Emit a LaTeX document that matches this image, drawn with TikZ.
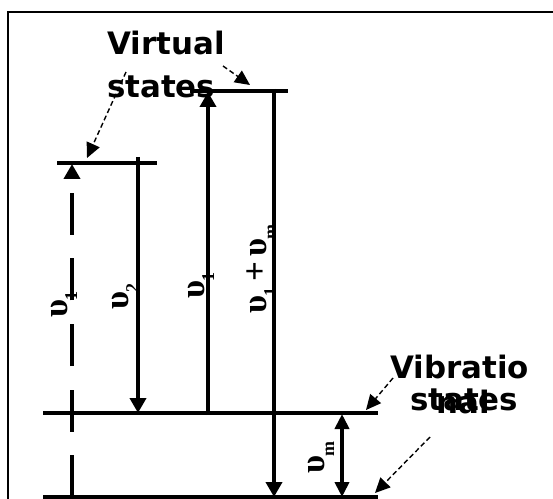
\documentclass[tikz,border=0pt]{standalone}
\usepackage{fontspec}
\setmainfont{Liberation Serif}
\newfontfamily\lblfont{DejaVu Sans}
\usetikzlibrary{arrows.meta}
\newcommand\lsub[1]{\kern-1bp\raisebox{-10bp}{\fontsize{18}{18}\selectfont #1}}
\begin{document}
\begin{tikzpicture}[x=1bp,y=-1bp,
  level/.style={line width=3.5bp},
  trans/.style={line width=4.5bp,-{Triangle[length=15bp,width=16bp]}},
  dtrans/.style={line width=4.5bp,{Triangle[length=15bp,width=14bp]}-{Triangle[length=15bp,width=14bp]}},
  note/.style={line width=1.4bp,dash pattern=on 5bp off 3bp,-{Triangle[length=15bp,width=14bp]}},
  ups/.style={rotate=90,anchor=base west,inner sep=0,font=\fontsize{35}{35}\selectfont\bfseries},
  ttl/.style={inner sep=0,anchor=base west,font=\lblfont\bfseries\fontsize{31}{31}\selectfont}]
\useasboundingbox (0,0) rectangle (553,499);
% frame
\coordinate (fbl) at (8,499);
\coordinate (ftl) at (8,12);
\coordinate (ftr) at (553,12);
\draw[line width=2bp] (fbl) -- (ftl) -- (ftr);
% levels
\coordinate (v1a) at (57,163); \coordinate (v1b) at (157,163);
\coordinate (v2a) at (190,91); \coordinate (v2b) at (288,91);
\coordinate (g1a) at (43,413); \coordinate (g1b) at (378,413);
\coordinate (g0a) at (43,497); \coordinate (g0b) at (378,497);
\draw[level] (v1a) -- (v1b);
\draw[level] (v2a) -- (v2b);
\draw[level] (g1a) -- (g1b);
\draw[level] (g0a) -- (g0b);
% transitions
\coordinate (d0) at (72,497); \coordinate (d1) at (72,164);
\draw[trans,dash pattern=on 42bp off 23.5bp] (d0) -- (d1);
\coordinate (s0) at (138,157); \coordinate (s1) at (138,413);
\draw[trans] (s0) -- (s1);
\coordinate (p0) at (208,415); \coordinate (p1) at (208,92);
\draw[trans] (p0) -- (p1);
\coordinate (a0) at (274,89); \coordinate (a1) at (274,497);
\draw[trans] (a0) -- (a1);
\coordinate (m0) at (342,414); \coordinate (m1) at (342,497);
\draw[dtrans] (m0) -- (m1);
% labels
\node[ups] (l1) at (67,318) {υ\lsub{1}};
\node[ups] (l2) at (128,310) {υ\lsub{2}};
\node[ups] (l3) at (204,299) {υ\lsub{1}};
\node[ups] (l4) at (266,314) {υ\lsub{1}\,+\,υ\lsub{m}};
\node[ups] (l5) at (324,474) {υ\lsub{m}};
% titles
\node[ttl] (t1) at (107,55) {Virtual};
\node[ttl] (t2) at (107,98) {states};
\node[ttl] (t3) at (390,378) {Vibratio};
\node[ttl] (t4) at (410,410) {states};
\node[ttl] (t5) at (436,413) {nal};
% annotation arrows
\coordinate (n1a) at (126,72); \coordinate (n1b) at (87,158);
\coordinate (n2a) at (223,66); \coordinate (n2b) at (250,85);
\coordinate (n3a) at (393,378); \coordinate (n3b) at (366,410);
\coordinate (n4a) at (430,437); \coordinate (n4b) at (375,493);
\draw[note] (n1a) -- (n1b);
\draw[note] (n2a) -- (n2b);
\draw[note] (n3a) -- (n3b);
\draw[note] (n4a) -- (n4b);
\end{tikzpicture}
\end{document}
